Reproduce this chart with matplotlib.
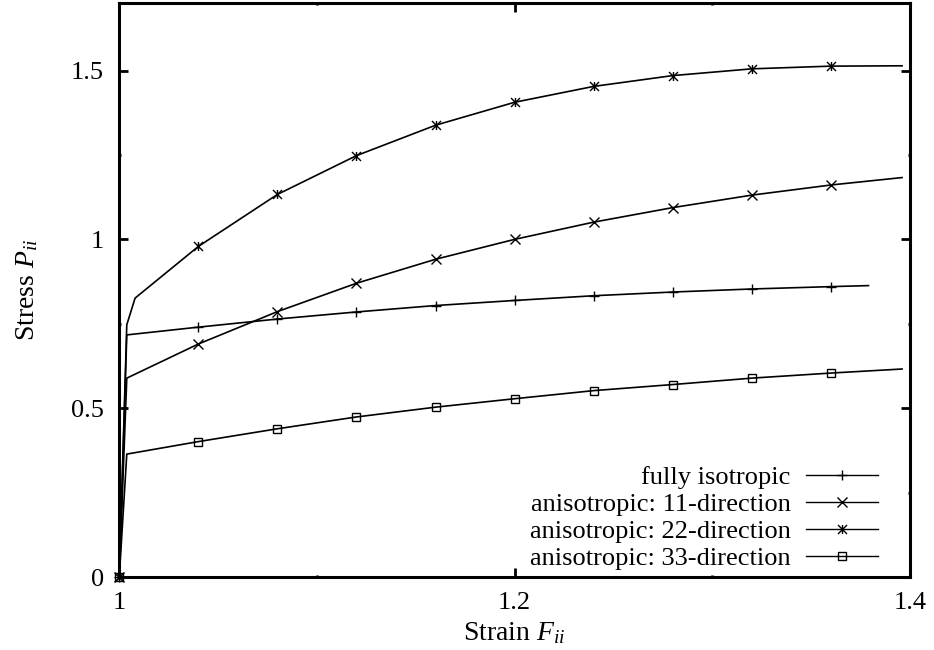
import matplotlib
matplotlib.use("Agg")
import matplotlib.pyplot as plt
from matplotlib.path import Path
from matplotlib.ticker import MultipleLocator

plt.rcParams["font.family"] = ["Liberation Serif", "DejaVu Serif"]
plt.rcParams["mathtext.fontset"] = "custom"
plt.rcParams["mathtext.rm"] = "Liberation Serif"
plt.rcParams["mathtext.it"] = "Liberation Serif:italic"

# strain values (marker stations every 0.04)
x_iso = [1.0, 1.0038, 1.04, 1.08, 1.12, 1.16, 1.20, 1.24, 1.28, 1.32, 1.36, 1.379]
y_iso = [0.0, 0.717, 0.740, 0.764, 0.785, 0.804, 0.819, 0.833, 0.844, 0.853, 0.860, 0.863]

x_11 = [1.0, 1.0038, 1.04, 1.08, 1.12, 1.16, 1.20, 1.24, 1.28, 1.32, 1.36, 1.396]
y_11 = [0.0, 0.589, 0.690, 0.786, 0.870, 0.941, 1.000, 1.051, 1.094, 1.131, 1.161, 1.183]

x_22 = [1.0, 1.0038, 1.008, 1.04, 1.08, 1.12, 1.16, 1.20, 1.24, 1.28, 1.32, 1.36, 1.396]
y_22 = [0.0, 0.747, 0.826, 0.979, 1.133, 1.248, 1.338, 1.406, 1.453, 1.485, 1.505, 1.513, 1.514]

x_33 = [1.0, 1.0038, 1.04, 1.08, 1.12, 1.16, 1.20, 1.24, 1.28, 1.32, 1.36, 1.396]
y_33 = [0.0, 0.364, 0.401, 0.439, 0.474, 0.503, 0.528, 0.552, 0.570, 0.589, 0.604, 0.616]

labels = ["fully isotropic", "anisotropic: 11-direction",
          "anisotropic: 22-direction", "anisotropic: 33-direction"]

# gnuplot style asterisk: vertical bar plus an x
star = Path([(0, -1), (0, 1), (-1, -1), (1, 1), (-1, 1), (1, -1)],
            [Path.MOVETO, Path.LINETO, Path.MOVETO, Path.LINETO, Path.MOVETO, Path.LINETO])

fig = plt.figure(figsize=(9.34, 6.5), dpi=100)
ax = fig.add_axes([0.1277, 0.1123, 0.8466, 0.8831])

series = [
    (x_iso, y_iso, "+", 7.5, [0] + list(range(2, 11))),
    (x_11, y_11, "x", 6.5, [0] + list(range(2, 11))),
    (x_22, y_22, star, 6.5, [0] + list(range(3, 12))),
    (x_33, y_33, "s", 6.0, [0] + list(range(2, 11))),
]
for (xs, ys, mk, ms, every), lab in zip(series, labels):
    ax.plot(xs, ys, color="black", lw=1.2, marker=mk, ms=ms, mew=1.0,
            mfc="none", mec="black", markevery=every, label=lab, clip_on=False)

ax.set_xlim(1.0, 1.4)
ax.set_ylim(0, 1.7)
ax.set_xticks([1.0, 1.2, 1.4])
ax.set_xticklabels(["1", "1.2", "1.4"])
ax.set_yticks([0, 0.5, 1.0, 1.5])
ax.set_yticklabels(["0", "0.5", "1", "1.5"])
ax.xaxis.set_minor_locator(MultipleLocator(0.1))
ax.yaxis.set_minor_locator(MultipleLocator(0.25))
ax.tick_params(which="major", direction="in", length=6.5, width=2, labelsize=19,
               pad=11, top=True, right=True)
ax.tick_params(which="minor", direction="in", length=1.5, width=2,
               top=True, right=True)
for sp in ax.spines.values():
    sp.set_linewidth(2.2)

ax.set_xlabel(r"Strain $F_{ii}$", fontsize=20, labelpad=4)
ax.set_ylabel(r"Stress $P_{ii}$", fontsize=20, labelpad=22)

leg = ax.legend(loc="lower right", bbox_to_anchor=(0.96, 0.012), frameon=False,
                fontsize=19, markerfirst=False, handlelength=2.73,
                handletextpad=0.6, labelspacing=0.13, borderpad=0, borderaxespad=0)
for line in leg.get_lines():
    line.set_linewidth(1.0)

fig.savefig("out.png", dpi=100)
